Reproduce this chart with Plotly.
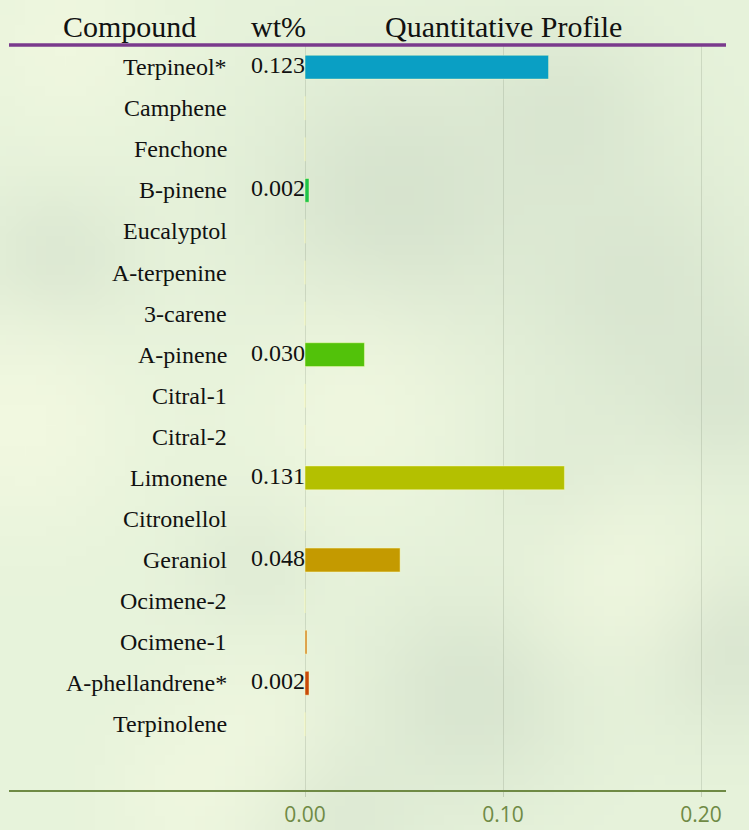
import base64
import struct
import zlib

import numpy as np
import plotly.graph_objects as go

compounds = ["Terpineol*", "Camphene", "Fenchone", "B-pinene", "Eucalyptol",
             "A-terpenine", "3-carene", "A-pinene", "Citral-1", "Citral-2",
             "Limonene", "Citronellol", "Geraniol", "Ocimene-2", "Ocimene-1",
             "A-phellandrene*", "Terpinolene"]
values = [0.123, 0, 0, 0.002, 0, 0, 0, 0.030, 0, 0, 0.131, 0, 0.048, 0, 0.001, 0.002, 0]
value_labels = ["0.123", "", "", "0.002", "", "", "", "0.030", "", "", "0.131", "", "0.048",
                "", "", "0.002", ""]
colors = ["#0a9fc4", "#1ec44a", "#1ec44a", "#1ec44a", "#3cc428", "#46c418", "#4cc210",
          "#52c20a", "#7ec200", "#9cc200", "#b4c000", "#bcae00", "#c49a00", "#cc9018",
          "#d4882a", "#c84a0a", "#c84a0a"]
tick_vals = [0.0, 0.1, 0.2]
tick_text = ["0.00", "0.10", "0.20"]

W, H = 749, 830
pl, pr, pt, pb = 9, 23, 45, 40
pw = W - pl - pr


def px(xp):
    return (xp - pl) / pw


# ---- soft blurred-leaf style background (decoration only) ----
def make_bg():
    w, h = 75, 83
    yy, xx = np.mgrid[0:h, 0:w].astype(float)
    xx *= W / w
    yy *= H / h
    base = np.array([231, 243, 219], float)
    img = np.zeros((h, w, 3)) + base
    dark = np.array([208, 221, 201], float)
    light = np.array([243, 249, 225], float)
    blobs = [
        (390, 200, 95, dark, 0.7), (560, 110, 70, dark, 0.5), (630, 280, 85, dark, 0.55),
        (720, 390, 60, dark, 0.5), (470, 690, 75, dark, 0.6), (720, 640, 60, dark, 0.6),
        (50, 260, 55, dark, 0.5), (250, 560, 45, dark, 0.3), (560, 470, 60, dark, 0.3),
        (330, 810, 60, dark, 0.4), (20, 420, 80, light, 0.9), (350, 400, 80, light, 0.7),
        (620, 570, 70, light, 0.6), (180, 790, 60, light, 0.6), (60, 40, 70, light, 0.7),
        (250, 720, 60, light, 0.5),
    ]
    for cx, cy, r, col, s in blobs:
        wgt = s * np.exp(-(((xx - cx) ** 2 + (yy - cy) ** 2) / (2 * r * r)))[..., None]
        img = img * (1 - wgt) + col * wgt
    img = np.clip(img, 0, 255).astype(np.uint8)
    raw = b"".join(b"\x00" + img[i].tobytes() for i in range(h))

    def chunk(tag, data):
        c = struct.pack(">I", len(data)) + tag + data
        return c + struct.pack(">I", zlib.crc32(tag + data) & 0xFFFFFFFF)

    png = b"\x89PNG\r\n\x1a\n" + chunk(b"IHDR", struct.pack(">IIBBBBB", w, h, 8, 2, 0, 0, 0))
    png += chunk(b"IDAT", zlib.compress(raw, 9)) + chunk(b"IEND", b"")
    return "data:image/png;base64," + base64.b64encode(png).decode()


fig = go.Figure()
fig.add_trace(go.Bar(
    y=compounds, x=values, orientation="h",
    marker=dict(color=colors, line=dict(color="rgba(255,255,190,0.45)", width=1)),
    hoverinfo="skip", showlegend=False,
))
fig.add_trace(go.Scatter(
    y=compounds, x=[0] * len(compounds), mode="text",
    text=value_labels, textposition="middle left",
    textfont=dict(family="Liberation Serif", size=24, color="#111111"),
    hoverinfo="skip", showlegend=False,
))

annotations = []
for c in compounds:
    annotations.append(dict(
        x=px(229), xref="paper", y=c, yref="y", text=c, showarrow=False,
        xanchor="right", font=dict(family="Liberation Serif", size=24, color="#111111"),
    ))
for label, xp in [("Compound", 129), ("wt%", 278), ("Quantitative Profile", 503)]:
    annotations.append(dict(
        x=px(xp), xref="paper", y=1.0, yref="paper", xanchor="center", yanchor="bottom",
        yshift=0, text=label, showarrow=False,
        font=dict(family="Liberation Serif", size=30, color="#111111")))

fig.update_layout(
    width=W, height=H,
    margin=dict(l=pl, r=pr, t=pt, b=pb, autoexpand=False),
    paper_bgcolor="#e6f1da",
    plot_bgcolor="rgba(0,0,0,0)",
    bargap=0.42,
    annotations=annotations,
    images=[dict(source=make_bg(), xref="paper", yref="paper",
                 x=-pl / pw, y=1 + pt / (H - pt - pb), sizex=W / pw,
                 sizey=H / (H - pt - pb), sizing="stretch", xanchor="left",
                 yanchor="top", layer="below")],
    shapes=[dict(type="line", xref="paper", yref="paper", x0=0, x1=1, y0=1.0, y1=1.0,
                 line=dict(color="#7a3a8c", width=3.5))],
    xaxis=dict(range=[-0.1495, 0.2126], tickvals=tick_vals, ticktext=tick_text,
               automargin=False,
               showgrid=True, gridcolor="rgba(120,130,110,0.22)", gridwidth=1,
               zeroline=False, showline=True, linecolor="#6f8a45", linewidth=2,
               ticks="outside", ticklen=5, tickcolor="rgba(120,130,110,0.3)",
               tickfont=dict(family="Open Sans", size=21, color="#6f8a45")),
    yaxis=dict(range=[17.6, -0.54], showticklabels=False, showgrid=False,
               automargin=False,
               zeroline=False, showline=False, ticks=""),
)

fig.write_html("out.html", config={"displayModeBar": False},
               post_script="document.body.style.margin='0';"
                           "document.body.style.background='#e6f1da';")
